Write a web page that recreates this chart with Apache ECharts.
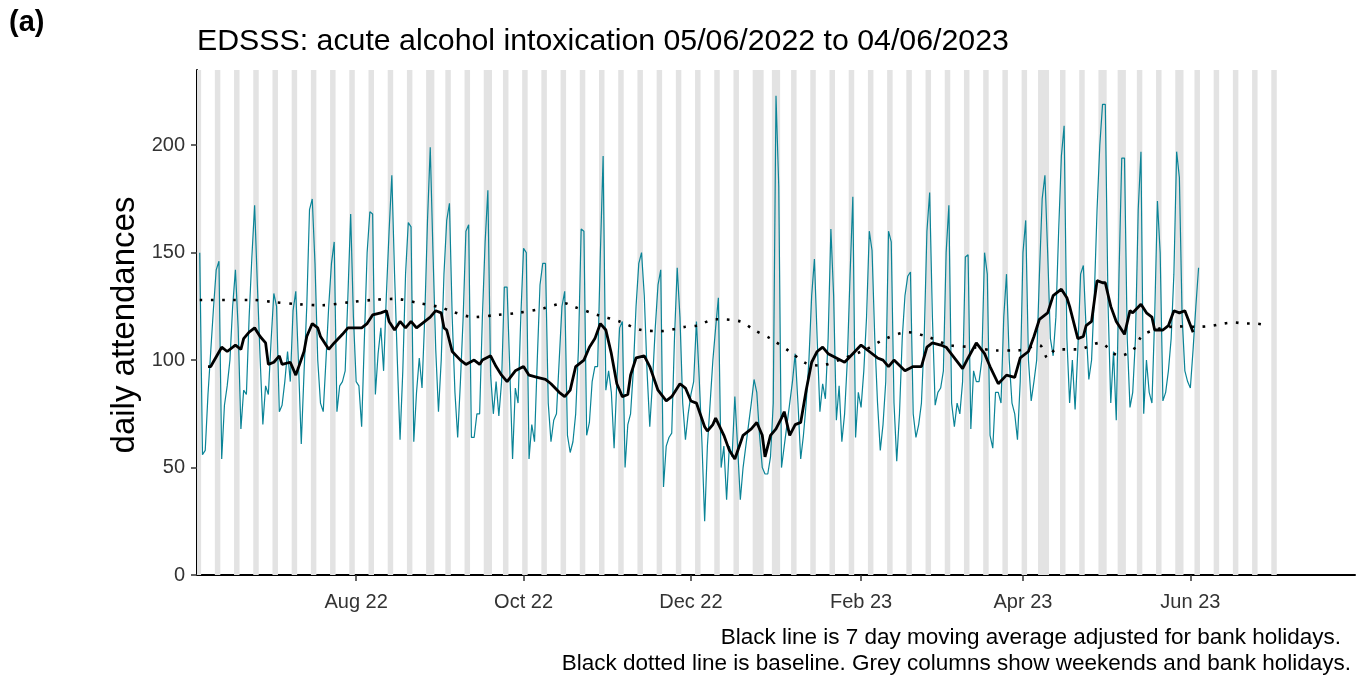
<!DOCTYPE html>
<html>
<head>
<meta charset="utf-8">
<script src="https://cdn.jsdelivr.net/npm/echarts@6/dist/echarts.min.js"></script>
<style>
  html, body { margin: 0; padding: 0; background: #fff; }
  #chart { width: 1363px; height: 685px; }
</style>
</head>
<body>
<div id="chart"></div>
<script>
// daily attendances, one value a day from startDate (05/06/2022) to 04/06/2023
var startDate = '2022-06-05';
var attendances = [150,
  56, 58, 84, 104, 124, 142, 146,
  54, 79, 88, 100, 125, 142, 115,
  68, 86, 84, 120, 148, 172, 135,
  101, 70, 88, 84, 109, 131, 125,
  76, 79, 90, 104, 90, 123, 132,
  98, 61, 94, 125, 170, 175, 145,
  100, 80, 76, 100, 125, 145, 155,
  76, 88, 90, 95, 130, 168, 120,
  90, 88, 69, 110, 150, 169, 168,
  84, 103, 115, 95, 130, 160, 186,
  140, 100, 63, 95, 140, 164, 162,
  62, 85, 101, 87, 120, 165, 199,
  150, 105, 76, 100, 140, 165, 173,
  120, 85, 64, 90, 120, 160, 163,
  64, 64, 75, 75, 120, 155, 179,
  93, 75, 90, 74, 90, 134, 134,
  95, 54, 87, 80, 120, 152, 150,
  54, 70, 62, 100, 135, 145, 145,
  80, 62, 72, 75, 100, 125, 132,
  65, 57, 62, 75, 105, 161, 160,
  65, 71, 90, 97, 97, 150, 195,
  86, 95, 85, 59, 90, 115, 118,
  50, 70, 75, 95, 125, 145, 150,
  130, 95, 69, 90, 115, 135, 142,
  41, 60, 64, 66, 110, 143, 120,
  80, 63, 75, 84, 90, 118, 92,
  62, 25, 60, 80, 100, 115, 129,
  50, 60, 35, 60, 55, 83, 60,
  35, 50, 60, 70, 80, 91, 85,
  65, 50, 47, 47, 55, 80, 223,
  181, 50, 60, 70, 80, 90, 103,
  80, 54, 65, 80, 100, 130, 147,
  110, 76, 89, 82, 110, 161, 130,
  72, 88, 62, 75, 100, 140, 176,
  64, 85, 78, 95, 120, 160, 151,
  110, 80, 58, 70, 90, 160, 155,
  80, 53, 75, 110, 130, 139, 141,
  75, 64, 70, 80, 110, 160, 178,
  120, 79, 85, 87, 95, 150, 172,
  80, 69, 80, 75, 90, 148, 149,
  68, 95, 90, 90, 100, 150, 140,
  65, 59, 85, 85, 80, 120, 140,
  100, 80, 75, 63, 90, 150, 165,
  100, 81, 90, 100, 140, 175, 186,
  150, 110, 102, 120, 160, 195, 209,
  110, 80, 100, 77, 105, 140, 144,
  115, 91, 100, 130, 170, 200, 219,
  219, 126, 80, 104, 72, 140, 194,
  194, 110, 78, 85, 110, 170, 197,
  75, 100, 85, 80, 120, 174, 150,
  81, 85, 95, 110, 140, 197, 185,
  120, 95, 90, 87, 105, 125, 143];

var maDays = [3, 4, 8, 10, 13, 15, 16, 18, 20, 22,
  24, 25, 27, 29, 30, 33, 35, 38, 39, 41,
  43, 44, 47, 49, 52, 54, 57, 59, 61, 63,
  66, 68, 69, 71, 73, 75, 77, 79, 81, 84,
  86, 88, 89, 90, 92, 95, 97, 100, 102, 103,
  106, 108, 110, 112, 115, 118, 120, 123, 126, 128,
  131, 133, 135, 137, 140, 142, 144, 146, 148, 150,
  152, 154, 156, 157, 159, 162, 164, 167, 170, 172,
  175, 177, 179, 181, 184, 185, 187, 188, 191, 193,
  195, 198, 201, 203, 205, 206, 208, 210, 212, 213,
  215, 217, 219, 221, 223, 225, 227, 229, 232, 235,
  238, 241, 244, 247, 249, 251, 253, 257, 260, 263,
  265, 267, 270, 272, 275, 278, 280, 283, 286, 288,
  291, 294, 297, 299, 302, 304, 306, 309, 311, 314,
  316, 317, 320, 322, 323, 325, 327, 329, 330, 332,
  334, 337, 339, 340, 343, 345, 347, 348, 351, 353,
  355, 357, 359, 362];
var maValues = [97, 97, 106, 104, 107, 105, 110, 113, 115, 111,
  108, 98, 99, 102, 98, 99, 93, 104, 111, 117,
  115, 111, 105, 108, 112, 115, 115, 115, 117, 121,
  122, 123, 118, 114, 118, 115, 118, 115, 117, 120,
  123, 122, 115, 114, 104, 100, 98, 100, 98, 100,
  102, 97, 93, 90, 95, 97, 93, 92, 91, 89,
  85, 83, 86, 97, 100, 106, 110, 117, 114, 103,
  89, 83, 84, 93, 101, 102, 97, 86, 81, 83,
  89, 87, 81, 80, 69, 67, 70, 73, 65, 58,
  54, 65, 68, 71, 65, 55, 65, 68, 73, 76,
  65, 70, 71, 86, 99, 104, 106, 103, 101, 99,
  103, 107, 104, 101, 100, 97, 100, 95, 97, 97,
  106, 108, 107, 106, 101, 96, 101, 108, 103, 97,
  89, 93, 92, 101, 104, 111, 119, 122, 130, 133,
  129, 125, 110, 111, 116, 118, 137, 136, 136, 125,
  118, 112, 123, 122, 126, 122, 120, 114, 114, 116,
  123, 122, 123, 113];

var baseDays = [0, 11, 19, 27, 36, 44, 55, 63, 71, 80,
  88, 91, 100, 108, 116, 125, 133, 136, 145, 153,
  161, 168, 177, 181, 188, 197, 202, 208, 215, 221,
  226, 234, 242, 250, 258, 266, 273, 282, 290, 298,
  306, 309, 312, 316, 320, 328, 335, 340, 344, 356,
  364, 369, 373, 377, 381, 385, 389];
var baseValues = [128, 128, 128, 127, 126, 125.5, 127, 128, 128.5, 126.5,
  124.5, 123, 120, 121, 122, 124, 126.5, 125, 121, 118,
  114, 113.5, 115.5, 116, 119, 118, 114, 110, 104, 98.5,
  97.5, 100.5, 104.5, 110, 113, 110.5, 107, 106, 104.5, 104.5,
  107, 101, 105, 105, 105, 108, 102, 104.5, 112, 115.7,
  115.5, 116, 117, 117.5, 117, 117, 116];

var bankHolidays = ['2022-06-02', '2022-06-03', '2022-08-29', '2022-09-19', '2022-12-26', '2022-12-27',
  '2023-01-02', '2023-04-07', '2023-04-10', '2023-05-01', '2023-05-08', '2023-05-29'];
var greyFrom = '2022-06-04', greyTo = '2023-07-02';

var tickDates = ['2022-08-01', '2022-10-01', '2022-12-01', '2023-02-01', '2023-04-01', '2023-06-01'];
var tickLabels = ['Aug 22', 'Oct 22', 'Dec 22', 'Feb 23', 'Apr 23', 'Jun 23'];
var yTicks = [0, 50, 100, 150, 200];

var FONT = "'Liberation Sans', Arial, Helvetica, sans-serif";

function toTime(s) {
  var p = s.split('-');
  return new Date(+p[0], +p[1] - 1, +p[2]).getTime();
}
function dayTime(i) {
  var p = startDate.split('-');
  return new Date(+p[0], +p[1] - 1, +p[2] + i).getTime();
}
function fmt(d) {
  var m = d.getMonth() + 1, dd = d.getDate();
  return d.getFullYear() + '-' + (m < 10 ? '0' : '') + m + '-' + (dd < 10 ? '0' : '') + dd;
}

var xMin = toTime('2022-06-04');
var xMax = toTime('2023-07-31');
var tickTimes = tickDates.map(toTime);

// weekends + bank holidays -> runs of grey days
var half = 12 * 3600 * 1000;
var runs = [], run = null;
var dt = new Date(toTime(greyFrom)), endDt = new Date(toTime(greyTo));
while (dt <= endDt) {
  var grey = dt.getDay() === 0 || dt.getDay() === 6 || bankHolidays.indexOf(fmt(dt)) >= 0;
  if (grey) {
    if (!run) run = [dt.getTime(), dt.getTime()];
    else run[1] = dt.getTime();
  } else if (run) {
    runs.push(run); run = null;
  }
  dt.setDate(dt.getDate() + 1);
}
if (run) runs.push(run);
var greyAreas = runs.map(function (r) {
  return [{ xAxis: Math.max(xMin, r[0] - half) }, { xAxis: r[1] + half }];
});

var dailyData = attendances.map(function (v, i) { return [dayTime(i), v]; });
var maData = maDays.map(function (d, i) { return [dayTime(d), maValues[i]]; });
var baseData = baseDays.map(function (d, i) { return [dayTime(d), baseValues[i]]; });

var chart = echarts.init(document.getElementById('chart'));

var option = {
  animation: false,
  backgroundColor: '#fff',
  grid: { left: 197, right: 8, top: 70, bottom: 110 },
  xAxis: {
    // dates as timestamps on a value axis, so the month ticks can be placed exactly
    type: 'value',
    min: xMin,
    max: xMax,
    axisLine: { lineStyle: { color: '#000', width: 2 } },
    axisTick: { customValues: tickTimes, length: 6, lineStyle: { color: '#333', width: 1.5 } },
    axisLabel: {
      customValues: tickTimes,
      margin: 17,
      fontSize: 20,
      fontFamily: FONT,
      color: '#333',
      formatter: function (v) {
        var i = tickTimes.indexOf(v);
        return i >= 0 ? tickLabels[i] : '';
      }
    },
    splitLine: { show: false }
  },
  yAxis: {
    type: 'value',
    min: 0,
    max: 235,
    axisLine: { show: true, lineStyle: { color: '#000', width: 2 } },
    axisTick: { show: true, customValues: yTicks, length: 6, lineStyle: { color: '#333', width: 1.5 } },
    axisLabel: { customValues: yTicks, margin: 12, fontSize: 20, fontFamily: FONT, color: '#333' },
    splitLine: { show: false }
  },
  series: [
    {
      // only carries the grey weekend / bank holiday columns
      type: 'line',
      data: dailyData,
      showSymbol: false,
      silent: true,
      lineStyle: { opacity: 0 },
      z: 1,
      markArea: {
        silent: true,
        itemStyle: { color: '#e3e3e3' },
        data: greyAreas
      }
    },
    {
      name: 'daily',
      type: 'line',
      data: dailyData,
      showSymbol: false,
      lineStyle: { color: '#0b8497', width: 1.2 },
      z: 3
    },
    {
      name: 'baseline',
      type: 'line',
      data: baseData,
      showSymbol: false,
      smooth: 0.3,
      lineStyle: { color: '#000', width: 2.6, type: [2.6, 8.6], cap: 'butt' },
      z: 4
    },
    {
      name: '7 day average',
      type: 'line',
      data: maData,
      showSymbol: false,
      lineStyle: { color: '#000', width: 2.8 },
      z: 5
    }
  ],
  graphic: [
    { type: 'text', left: 9, top: 8,
      style: { text: '(a)', font: 'bold 29px ' + FONT, fill: '#000' } },
    { type: 'text', x: 197, y: 42,
      style: { text: 'EDSSS: acute alcohol intoxication 05/06/2022 to 04/06/2023',
        font: '30.3px ' + FONT, fill: '#000', align: 'left', verticalAlign: 'middle' } },
    { type: 'text', x: 125, y: 325, rotation: Math.PI / 2,
      style: { text: 'daily attendances', font: '33px ' + FONT, fill: '#000',
        align: 'center', verticalAlign: 'middle' } },
    { type: 'text', x: 1341, y: 638,
      style: { text: 'Black line is 7 day moving average adjusted for bank holidays.',
        font: '22.5px ' + FONT, fill: '#000', align: 'right', verticalAlign: 'middle' } },
    { type: 'text', x: 1351, y: 664,
      style: { text: 'Black dotted line is baseline. Grey columns show weekends and bank holidays.',
        font: '22.5px ' + FONT, fill: '#000', align: 'right', verticalAlign: 'middle' } }
  ]
};

chart.setOption(option);
</script>
</body>
</html>
